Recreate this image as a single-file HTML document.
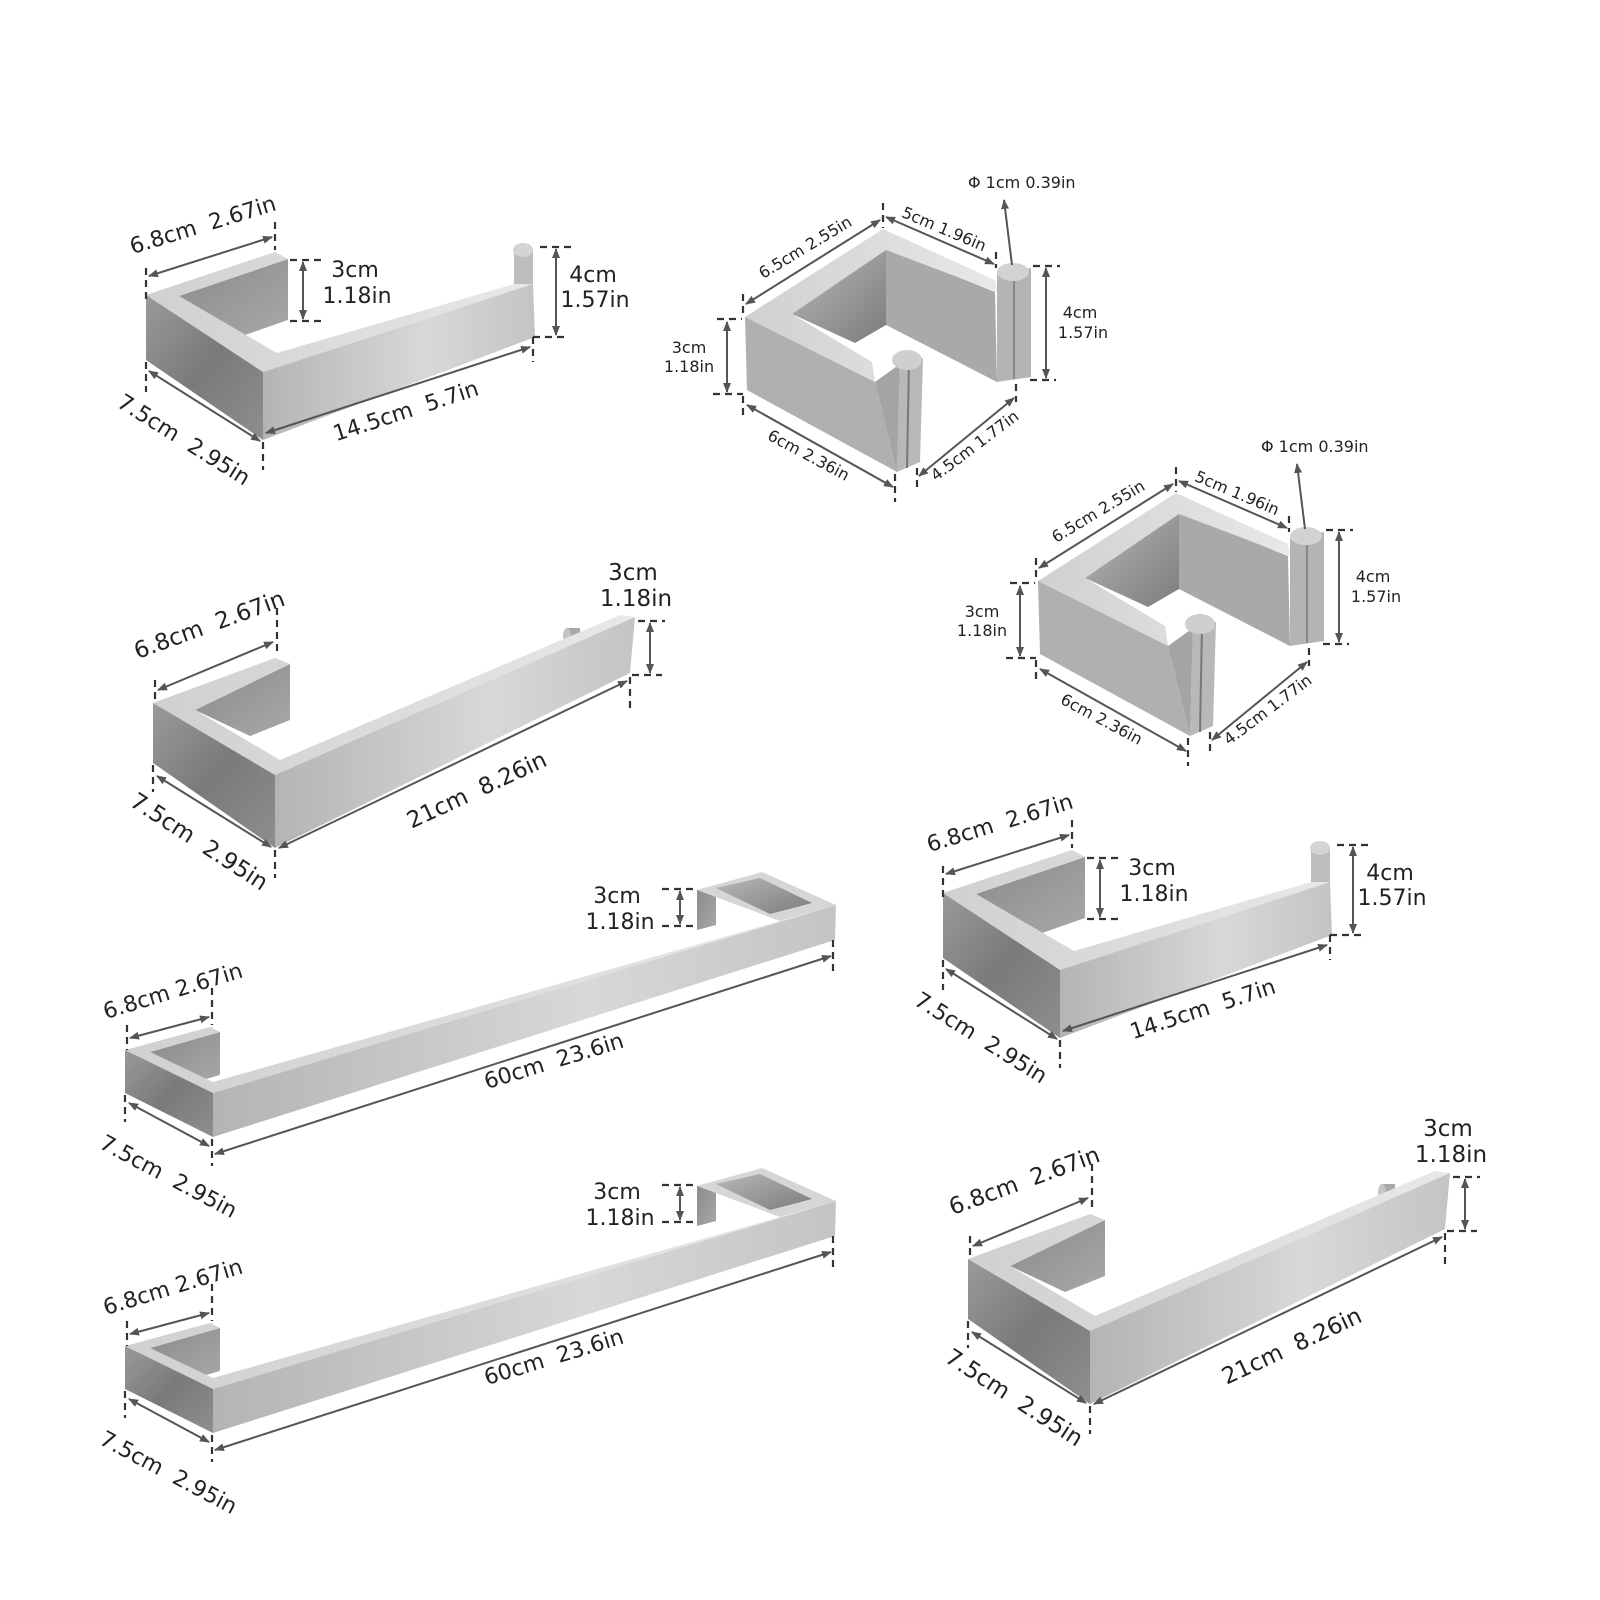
<!DOCTYPE html>
<html><head><meta charset="utf-8"><style>
html,body{margin:0;padding:0;background:#fff}
svg{display:block}
text{font-family:"DejaVu Sans","Liberation Sans",sans-serif;fill:#222}
.d{stroke:#555;stroke-width:2;fill:none}
.k{stroke:#333;stroke-width:2.2;stroke-dasharray:7 5;fill:none}
</style></head><body>
<svg width="1600" height="1600" viewBox="0 0 1600 1600" xmlns="http://www.w3.org/2000/svg">
<defs>
<marker id="ar" markerWidth="10" markerHeight="8" refX="9" refY="4" orient="auto-start-reverse" markerUnits="userSpaceOnUse"><path d="M0,0 L10,4 L0,8 z" fill="#555"/></marker>
<linearGradient id="gDark" x1="0" y1="0" x2="1" y2="1"><stop offset="0" stop-color="#9a9a9a"/><stop offset="0.5" stop-color="#7a7a7a"/><stop offset="1" stop-color="#8e8e8e"/></linearGradient>
<linearGradient id="gFront" x1="0" y1="0" x2="1" y2="0"><stop offset="0" stop-color="#b4b4b4"/><stop offset="0.6" stop-color="#d8d8d8"/><stop offset="1" stop-color="#c4c4c4"/></linearGradient>
<linearGradient id="gTop" x1="0" y1="0" x2="1" y2="0"><stop offset="0" stop-color="#d0d0d0"/><stop offset="1" stop-color="#e8e8e8"/></linearGradient>
<linearGradient id="gPlate" x1="0" y1="0" x2="1" y2="1"><stop offset="0" stop-color="#8a8a8a"/><stop offset="1" stop-color="#a8a8a8"/></linearGradient>
<linearGradient id="gHole" x1="0" y1="0" x2="1" y2="1"><stop offset="0" stop-color="#b8b8b8"/><stop offset="1" stop-color="#7c7c7c"/></linearGradient>

<!-- Shape A: toilet paper holder -->
<g id="A">
 <polygon points="179,296 288,259 288,320 245,335" fill="url(#gPlate)"/>
 <rect x="514" y="250" width="19" height="36" fill="#bdbdbd"/>
 <ellipse cx="523" cy="250" rx="10" ry="7" fill="#d4d4d4"/>
 <polygon points="146,295 275,252 288,259 179,296 277,353 514,284 533,284 263,372" fill="url(#gTop)"/>
 <polygon points="146,295 263,372 263,440 146,360" fill="url(#gDark)"/>
 <polygon points="263,372 533,284 535,337 263,440" fill="url(#gFront)"/>
 <line class="k" x1="146" y1="268" x2="146" y2="300"/>
 <line class="k" x1="275" y1="222" x2="275" y2="250"/>
 <line class="d" x1="149" y1="276" x2="272" y2="237" marker-start="url(#ar)" marker-end="url(#ar)"/>
 <text font-size="22" transform="translate(205,232) rotate(-17)" text-anchor="middle" xml:space="preserve">6.8cm  2.67in</text>
 <line class="k" x1="290" y1="260" x2="322" y2="260"/>
 <line class="k" x1="290" y1="321" x2="322" y2="321"/>
 <line class="d" x1="303" y1="262" x2="303" y2="319" marker-start="url(#ar)" marker-end="url(#ar)"/>
 <text font-size="22" x="355" y="277" text-anchor="middle">3cm</text>
 <text font-size="22" x="357" y="303" text-anchor="middle">1.18in</text>
 <line class="k" x1="540" y1="247" x2="575" y2="247"/>
 <line class="k" x1="533" y1="337" x2="568" y2="337"/>
 <line class="k" x1="533" y1="337" x2="533" y2="362"/>
 <line class="d" x1="556" y1="249" x2="556" y2="335" marker-start="url(#ar)" marker-end="url(#ar)"/>
 <text font-size="22" x="593" y="282" text-anchor="middle">4cm</text>
 <text font-size="22" x="595" y="307" text-anchor="middle">1.57in</text>
 <line class="k" x1="146" y1="362" x2="146" y2="392"/>
 <line class="k" x1="263" y1="442" x2="263" y2="470"/>
 <line class="d" x1="149" y1="371" x2="260" y2="441" marker-start="url(#ar)" marker-end="url(#ar)"/>
 <text font-size="22" transform="translate(180,446) rotate(32)" text-anchor="middle" xml:space="preserve">7.5cm  2.95in</text>
 <line class="d" x1="266" y1="433" x2="530" y2="347" marker-start="url(#ar)" marker-end="url(#ar)"/>
 <text font-size="22" transform="translate(408,418) rotate(-18)" text-anchor="middle" xml:space="preserve">14.5cm  5.7in</text>
</g>

<!-- Shape B: hand towel ring -->
<g id="B">
 <polygon points="195,710 290,664 290,720 250,736" fill="url(#gPlate)"/>
 <rect x="566" y="628" width="14" height="18" fill="#a8a8a8"/>
 <ellipse cx="567" cy="636" rx="4" ry="8" fill="#c4c4c4"/>
 <polygon points="153,703 275,658 290,664 195,710 280,760 620,615 635,617 275,775" fill="url(#gTop)"/>
 <polygon points="153,703 275,775 275,848 153,763" fill="url(#gDark)"/>
 <polygon points="275,775 635,617 630,673 275,848" fill="url(#gFront)"/>
 <line class="k" x1="155" y1="680" x2="155" y2="702"/>
 <line class="k" x1="277" y1="608" x2="277" y2="652"/>
 <line class="d" x1="158" y1="690" x2="273" y2="642" marker-start="url(#ar)" marker-end="url(#ar)"/>
 <text font-size="23" transform="translate(212,632) rotate(-20)" text-anchor="middle" xml:space="preserve">6.8cm  2.67in</text>
 <text font-size="23" x="633" y="580" text-anchor="middle">3cm</text>
 <text font-size="23" x="636" y="606" text-anchor="middle">1.18in</text>
 <line class="k" x1="638" y1="621" x2="665" y2="621"/>
 <line class="k" x1="632" y1="675" x2="662" y2="675"/>
 <line class="k" x1="630" y1="677" x2="630" y2="712"/>
 <line class="d" x1="650" y1="623" x2="650" y2="673" marker-start="url(#ar)" marker-end="url(#ar)"/>
 <line class="d" x1="279" y1="848" x2="627" y2="681" marker-start="url(#ar)" marker-end="url(#ar)"/>
 <text font-size="23" transform="translate(480,797) rotate(-25)" text-anchor="middle" xml:space="preserve">21cm  8.26in</text>
 <line class="k" x1="153" y1="765" x2="153" y2="792"/>
 <line class="k" x1="275" y1="850" x2="275" y2="878"/>
 <line class="d" x1="157" y1="776" x2="271" y2="847" marker-start="url(#ar)" marker-end="url(#ar)"/>
 <text font-size="23" transform="translate(195,848) rotate(33)" text-anchor="middle" xml:space="preserve">7.5cm  2.95in</text>
</g>

<!-- Shape C: towel bar -->
<g id="C">
 <polygon points="150,1052 220,1032 220,1075 195,1082" fill="url(#gPlate)"/>
 <polygon points="697,890 716,885 716,925 697,930" fill="url(#gPlate)"/>
 <polygon points="697,890 762,872 836,905 780,921" fill="#d6d6d6"/>
 <polygon points="716,888 760,878 812,903 770,914" fill="url(#gHole)"/>
 <polygon points="125,1050 210,1027 220,1032 150,1052 213,1082 780,921 836,905 213,1093" fill="url(#gTop)"/>
 <polygon points="125,1050 213,1093 213,1137 125,1093" fill="url(#gDark)"/>
 <polygon points="213,1093 836,905 835,940 213,1137" fill="url(#gFront)"/>
 <text font-size="22" x="617" y="903" text-anchor="middle">3cm</text>
 <text font-size="22" x="620" y="929" text-anchor="middle">1.18in</text>
 <line class="k" x1="662" y1="889" x2="694" y2="889"/>
 <line class="k" x1="662" y1="926" x2="694" y2="926"/>
 <line class="d" x1="680" y1="891" x2="680" y2="924" marker-start="url(#ar)" marker-end="url(#ar)"/>
 <line class="k" x1="127" y1="1025" x2="127" y2="1050"/>
 <line class="k" x1="212" y1="988" x2="212" y2="1025"/>
 <line class="d" x1="130" y1="1038" x2="209" y2="1017" marker-start="url(#ar)" marker-end="url(#ar)"/>
 <text font-size="22" transform="translate(175,998) rotate(-17)" text-anchor="middle">6.8cm 2.67in</text>
 <line class="k" x1="833" y1="940" x2="833" y2="972"/>
 <line class="k" x1="212" y1="1139" x2="212" y2="1166"/>
 <line class="d" x1="215" y1="1154" x2="831" y2="956" marker-start="url(#ar)" marker-end="url(#ar)"/>
 <text font-size="22" transform="translate(556,1068) rotate(-17)" text-anchor="middle" xml:space="preserve">60cm  23.6in</text>
 <line class="k" x1="125" y1="1095" x2="125" y2="1122"/>
 <line class="d" x1="129" y1="1103" x2="209" y2="1146" marker-start="url(#ar)" marker-end="url(#ar)"/>
 <text font-size="22" transform="translate(165,1183) rotate(28)" text-anchor="middle" xml:space="preserve">7.5cm  2.95in</text>
</g>

<!-- Shape D: robe hook -->
<g id="D">
 <polygon points="792,314 886,248 886,325 855,343" fill="url(#gHole)"/>
 <polygon points="886,248 995,292 997,382 886,325" fill="#a9a9a9"/>
 <polygon points="745,317 883,229 995,280 997,292 886,250 792,314 872,362 875,382" fill="url(#gTop)"/>
 <polygon points="745,317 875,382 897,472 747,390" fill="#b0b0b0"/>
 <polygon points="875,382 900,364 897,472" fill="#a4a4a4"/>
 <polygon points="900,362 923,358 920,462 897,472" fill="#b8b8b8"/>
 <line x1="909" y1="362" x2="907" y2="468" stroke="#777" stroke-width="2"/>
 <ellipse cx="907" cy="360" rx="15" ry="10" fill="#cfcfcf"/>
 <polygon points="997,274 1031,268 1031,377 997,382" fill="#b4b4b4"/>
 <line x1="1014" y1="274" x2="1014" y2="379" stroke="#888" stroke-width="2"/>
 <ellipse cx="1013" cy="272" rx="16" ry="9" fill="#d2d2d2"/>
 <line class="k" x1="743" y1="294" x2="743" y2="318"/>
 <line class="k" x1="717" y1="319" x2="742" y2="319"/>
 <line class="k" x1="883" y1="203" x2="883" y2="228"/>
 <line class="d" x1="746" y1="304" x2="880" y2="220" marker-start="url(#ar)" marker-end="url(#ar)"/>
 <text font-size="16" transform="translate(808,252) rotate(-31)" text-anchor="middle">6.5cm 2.55in</text>
 <line class="k" x1="996" y1="252" x2="996" y2="268"/>
 <line class="d" x1="886" y1="217" x2="994" y2="264" marker-start="url(#ar)" marker-end="url(#ar)"/>
 <text font-size="16" transform="translate(942,234) rotate(23)" text-anchor="middle">5cm 1.96in</text>
 <text font-size="16" x="968" y="188">Φ 1cm 0.39in</text>
 <line class="d" x1="1012" y1="265" x2="1004" y2="200" marker-end="url(#ar)"/>
 <line class="k" x1="1033" y1="266" x2="1060" y2="266"/>
 <line class="k" x1="1030" y1="380" x2="1056" y2="380"/>
 <line class="d" x1="1046" y1="268" x2="1046" y2="378" marker-start="url(#ar)" marker-end="url(#ar)"/>
 <text font-size="16" x="1080" y="318" text-anchor="middle">4cm</text>
 <text font-size="16" x="1083" y="338" text-anchor="middle">1.57in</text>
 <text font-size="16" x="689" y="353" text-anchor="middle">3cm</text>
 <text font-size="16" x="689" y="372" text-anchor="middle">1.18in</text>
 <line class="d" x1="727" y1="322" x2="727" y2="392" marker-start="url(#ar)" marker-end="url(#ar)"/>
 <line class="k" x1="713" y1="394" x2="743" y2="394"/>
 <line class="k" x1="743" y1="396" x2="743" y2="418"/>
 <line class="k" x1="895" y1="474" x2="895" y2="502"/>
 <line class="d" x1="747" y1="405" x2="893" y2="487" marker-start="url(#ar)" marker-end="url(#ar)"/>
 <text font-size="16" transform="translate(806,460) rotate(28)" text-anchor="middle">6cm 2.36in</text>
 <line class="k" x1="917" y1="468" x2="917" y2="492"/>
 <line class="k" x1="1016" y1="384" x2="1016" y2="402"/>
 <line class="d" x1="919" y1="476" x2="1014" y2="398" marker-start="url(#ar)" marker-end="url(#ar)"/>
 <text font-size="16" transform="translate(978,450) rotate(-37)" text-anchor="middle">4.5cm 1.77in</text>
</g>
</defs>

<use href="#A"/>
<use href="#A" transform="translate(797,598)"/>
<use href="#B"/>
<use href="#B" transform="translate(815,556)"/>
<use href="#C"/>
<use href="#C" transform="translate(0,296)"/>
<use href="#D"/>
<use href="#D" transform="translate(293,264)"/>
</svg>
</body></html>
